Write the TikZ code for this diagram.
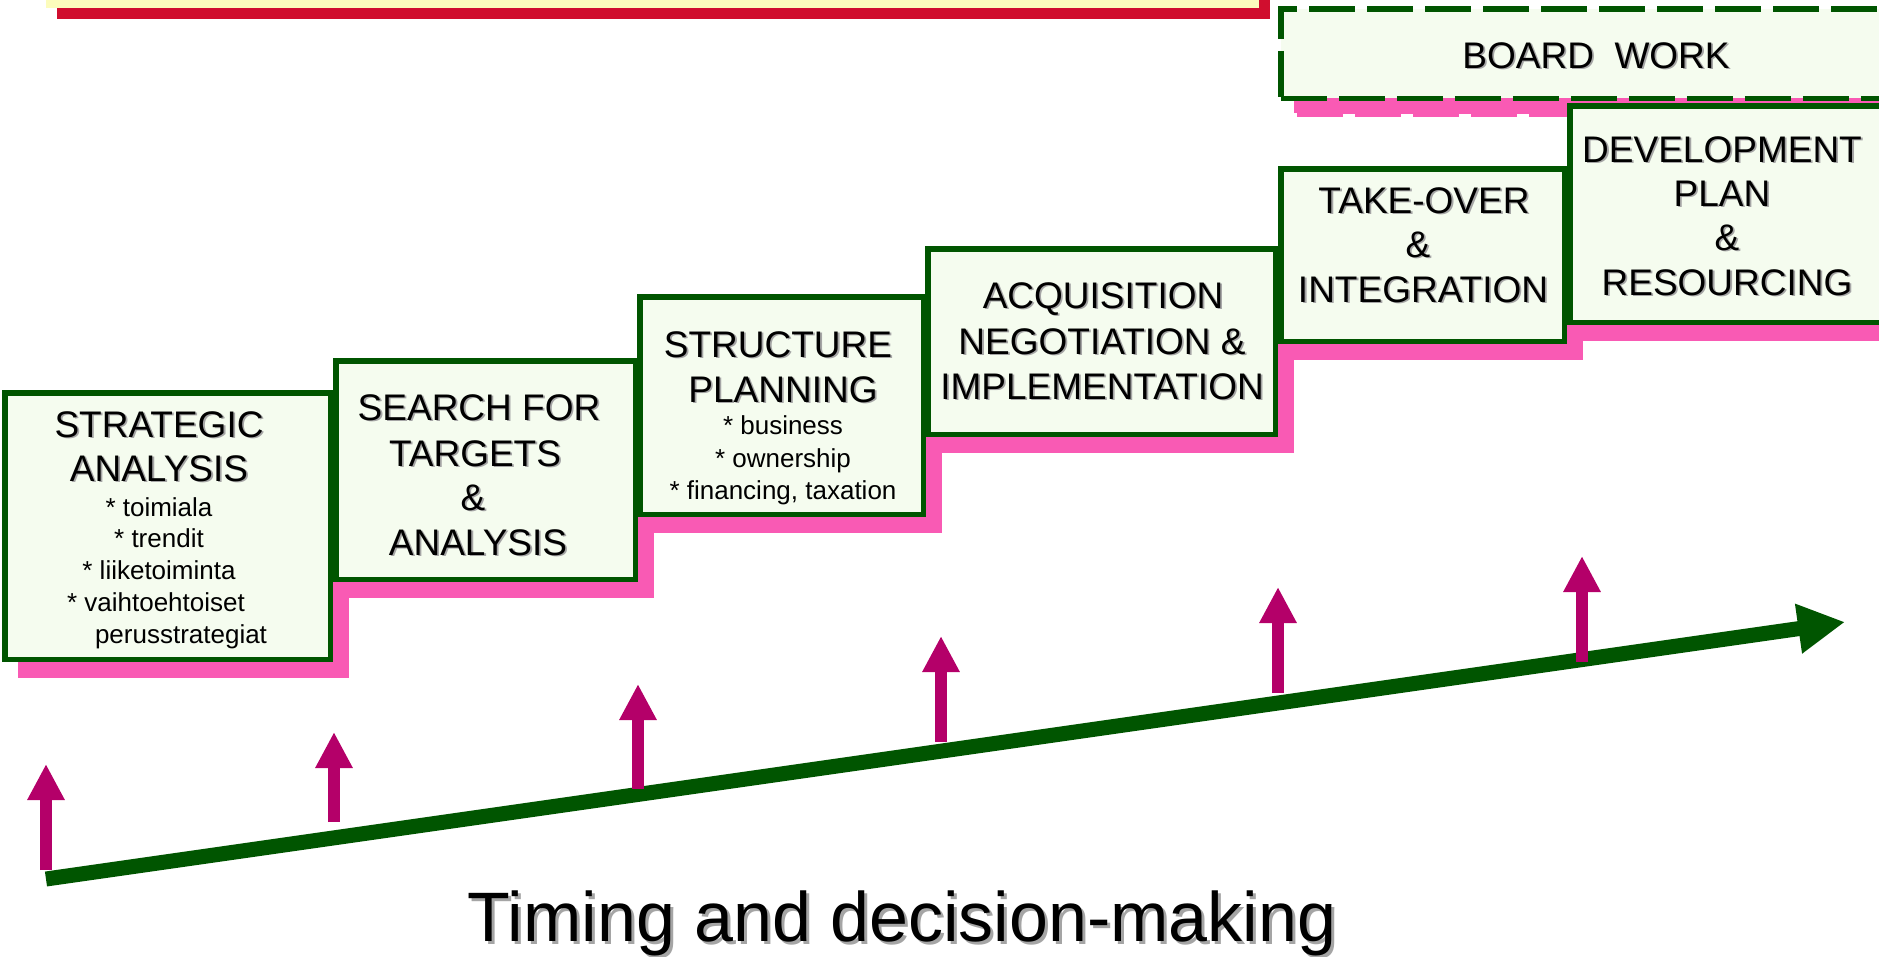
\documentclass[tikz,border=0pt]{standalone}
\usepackage{fontspec}
\setmainfont{Liberation Sans}
\usetikzlibrary{arrows.meta}
\definecolor{dgreen}{RGB}{0,85,0}
\definecolor{shpink}{RGB}{249,90,180}
\definecolor{magarrow}{RGB}{180,0,105}
\definecolor{boxfill}{RGB}{245,252,239}
\definecolor{topyellow}{RGB}{252,252,188}
\definecolor{topred}{RGB}{208,14,46}
\definecolor{txtshadow}{RGB}{165,165,165}
\tikzset{
  stepbox/.style={draw=dgreen, line width=5.5pt, fill=boxfill, inner sep=0pt},
  stepshadow/.style={draw=shpink, line width=5.5pt, fill=shpink, inner sep=0pt},
  boardbox/.style={draw=dgreen, line width=5.5pt, fill=boxfill, inner sep=0pt, dash pattern=on 46pt off 12pt},
  boardshadow/.style={draw=shpink, line width=5.5pt, fill=shpink, inner sep=0pt, dash pattern=on 46pt off 12pt},
  title/.style={anchor=base, inner sep=0pt, font=\fontsize{37}{44}\selectfont},
  bigtitle/.style={anchor=base, inner sep=0pt, font=\fontsize{70}{80}\selectfont},
  small/.style={anchor=base, inner sep=0pt, font=\fontsize{26}{31}\selectfont},
  upar/.style={draw=magarrow, line width=12pt, -{Triangle[length=36pt,width=35pt]}},
  timeline/.style={draw=dgreen, line width=15pt, -{Triangle[length=47pt,width=47pt]}},
}
\newcommand\sht[4][title]{%
  \node[#1, text=txtshadow, xshift=1.8pt, yshift=-1.8pt] at (#3) {#4};
  \node[#1] (#2) at (#3) {#4};}
\begin{document}
\begin{tikzpicture}[x=1pt,y=-1pt]
\useasboundingbox (0,0) rectangle (1879,956);
\clip (0,0) rectangle (1879,956);
% top yellow bar with red shadow
\node[fill=topred, minimum width=1213pt, minimum height=68pt, inner sep=0pt] (topsh) at (663.5,-15) {};
\node[fill=topyellow, minimum width=1213pt, minimum height=68pt, inner sep=0pt] (topbar) at (652.5,-26) {};
% board work
\node[boardshadow, minimum width=630.25pt, minimum height=89.5pt] (boardsh) at (1611.9,69.5) {};
\node[boardbox, minimum width=630.25pt, minimum height=89.5pt] (board) at (1595.9,53.5) {};
% step boxes
\node[stepshadow, minimum width=325.5pt, minimum height=266.5pt] (s1) at (183.5,542) {};
\node[stepbox, minimum width=325.5pt, minimum height=266.5pt] (b1) at (167.5,526) {};
\node[stepshadow, minimum width=299.5pt, minimum height=218.5pt] (s2) at (501.5,486) {};
\node[stepbox, minimum width=299.5pt, minimum height=218.5pt] (b2) at (485.5,470) {};
\node[stepshadow, minimum width=283.5pt, minimum height=217.5pt] (s3) at (797.5,421.5) {};
\node[stepbox, minimum width=283.5pt, minimum height=217.5pt] (b3) at (781.5,405.5) {};
\node[stepshadow, minimum width=347.5pt, minimum height=185.5pt] (s4) at (1117.5,357.5) {};
\node[stepbox, minimum width=347.5pt, minimum height=185.5pt] (b4) at (1101.5,341.5) {};
\node[stepshadow, minimum width=283.5pt, minimum height=172.5pt] (s5) at (1438.5,271) {};
\node[stepbox, minimum width=283.5pt, minimum height=172.5pt] (b5) at (1422.5,255) {};
\node[stepshadow, minimum width=320.25pt, minimum height=216.5pt] (s6) at (1745.9,230) {};
\node[stepbox, minimum width=320.25pt, minimum height=216.5pt] (b6) at (1729.9,214) {};
% texts
\sht{board-t}{1596,68}{BOARD\ \ WORK}
\sht{t1a}{159,437}{STRATEGIC}
\sht{t1b}{159,481}{ANALYSIS}
\node[small] (t1c) at (159,516) {* toimiala};
\node[small] (t1d) at (159,547) {* trendit};
\node[small] (t1e) at (159,579) {* liiketoiminta};
\node[small] (t1f) at (156,611) {* vaihtoehtoiset};
\node[small] (t1g) at (181,643) {perusstrategiat};
\sht{t2a}{479,420}{SEARCH FOR}
\sht{t2b}{475,466}{TARGETS}
\sht{t2c}{473,510}{\&}
\sht{t2d}{478,555}{ANALYSIS}
\sht{t3a}{778,357}{STRUCTURE}
\sht{t3b}{783,402}{PLANNING}
\node[small] (t3c) at (783,434) {* business};
\node[small] (t3d) at (783,467) {* ownership};
\node[small] (t3e) at (783,499) {* financing, taxation};
\sht{t4a}{1103,308}{ACQUISITION}
\sht{t4b}{1102,354}{NEGOTIATION \&}
\sht{t4c}{1102,399}{IMPLEMENTATION}
\sht{t5a}{1424,213}{TAKE-OVER}
\sht{t5b}{1418,257}{\&}
\sht{t5c}{1423,302}{INTEGRATION}
\sht{t6a}{1722,162}{DEVELOPMENT}
\sht{t6b}{1722,206}{PLAN}
\sht{t6c}{1727,250}{\&}
\sht{t6d}{1727,295}{RESOURCING}
% timeline
\coordinate (g0) at (46,879);
\coordinate (g1) at (1845,622);
\draw[timeline] (g0) -- (g1);
% decision arrows
\coordinate (a1b) at (46,870);  \coordinate (a1t) at (46,764);
\coordinate (a2b) at (334,822); \coordinate (a2t) at (334,732);
\coordinate (a3b) at (638,789); \coordinate (a3t) at (638,684);
\coordinate (a4b) at (941,742); \coordinate (a4t) at (941,636);
\coordinate (a5b) at (1278,693); \coordinate (a5t) at (1278,587);
\coordinate (a6b) at (1582,662); \coordinate (a6t) at (1582,556);
\draw[upar] (a1b) -- (a1t);
\draw[upar] (a2b) -- (a2t);
\draw[upar] (a3b) -- (a3t);
\draw[upar] (a4b) -- (a4t);
\draw[upar] (a5b) -- (a5t);
\draw[upar] (a6b) -- (a6t);
% caption
\node[bigtitle, text=txtshadow, xshift=3pt, yshift=-3pt] at (902,941) {Timing and decision-making};
\node[bigtitle] (caption) at (902,941) {Timing and decision-making};
\end{tikzpicture}
\end{document}
